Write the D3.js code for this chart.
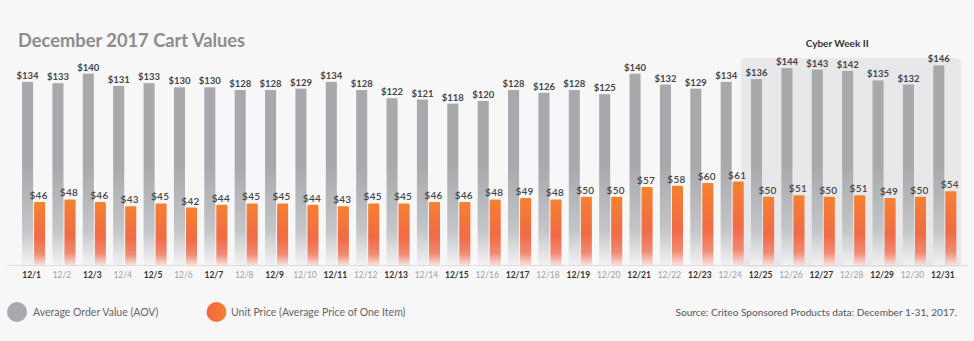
<!DOCTYPE html>
<html><head><meta charset="utf-8">
<script src="https://cdn.jsdelivr.net/npm/d3@7"></script>
<style>
html,body{margin:0;padding:0;background:#f7f7f8;}
svg{display:block;font-family:Lato,"Open Sans",sans-serif;}
</style></head><body>
<svg id="c" width="974" height="341"></svg>
<script>
const dates = ["12/1","12/2","12/3","12/4","12/5","12/6","12/7","12/8","12/9","12/10","12/11","12/12","12/13","12/14","12/15","12/16","12/17","12/18","12/19","12/20","12/21","12/22","12/23","12/24","12/25","12/26","12/27","12/28","12/29","12/30","12/31"];
const aov = [134,133,140,131,133,130,130,128,128,129,134,128,122,121,118,120,128,126,128,125,140,132,129,134,136,144,143,142,135,132,146];
const unitPrice = [46,48,46,43,45,42,44,45,45,44,43,45,45,46,46,48,49,48,50,50,57,58,60,61,50,51,50,51,49,50,54];
const seriesNames = ["Average Order Value (AOV)","Unit Price (Average Price of One Item)"];
const cyberWeek = {label:"Cyber Week II", start:"12/25", end:"12/31"};
const title = "December 2017 Cart Values";
const source = "Source: Criteo Sponsored Products data: December 1-31, 2017.";

const svg = d3.select("#c");
const base = 265;
const x = d3.scaleBand().domain(dates).range([18.4, 960]).paddingInner(0.24).paddingOuter(0.12);
const xs = d3.scaleBand().domain(["aov","unit"]).range([0, x.bandwidth()]).paddingInner(0.08);
const y = d3.scaleLinear().domain([0,150]).range([base, base - 150*1.367]);

const defs = svg.append("defs");
const gg = defs.append("linearGradient").attr("id","gGray").attr("gradientUnits","userSpaceOnUse")
  .attr("x1",0).attr("x2",0).attr("y1",base).attr("y2",165);
gg.append("stop").attr("offset","0").attr("stop-color","#f2f2f3");
gg.append("stop").attr("offset","0.35").attr("stop-color","#c4c5c8");
gg.append("stop").attr("offset","1").attr("stop-color","#a7a9ad");
const go = defs.append("linearGradient").attr("id","gOrange").attr("x1",0).attr("x2",0).attr("y1",0).attr("y2",1);
go.append("stop").attr("offset","0").attr("stop-color","#f6812f");
go.append("stop").attr("offset","0.55").attr("stop-color","#f06b46");
go.append("stop").attr("offset","0.82").attr("stop-color","#f08a72");
go.append("stop").attr("offset","1").attr("stop-color","#f8e0da");
const gl = defs.append("linearGradient").attr("id","gLeg").attr("x1",0).attr("x2",1).attr("y1",0).attr("y2",0);
gl.append("stop").attr("offset","0").attr("stop-color","#f26640");
gl.append("stop").attr("offset","1").attr("stop-color","#f6812f");

// Cyber week box
const cwL = x(cyberWeek.start) - 10, cwR = x(cyberWeek.end) + x.bandwidth() + 5;
svg.append("rect").attr("x",cwL).attr("y",58).attr("width",cwR-cwL).attr("height",base+2-58)
  .attr("rx",5).attr("fill","#e8e8ea");
svg.append("text").attr("x",(cwL+cwR)/2 - 14).attr("y",47).attr("text-anchor","middle")
  .attr("font-size",10).attr("font-weight",700).attr("fill","#333").text(cyberWeek.label);

// title
svg.append("text").attr("x",18).attr("y",47).attr("font-size",18.3).attr("font-weight",700)
  .attr("fill","#8c8c8e").text(title);

const data = dates.map((d,i)=>({d, a:aov[i], u:unitPrice[i]}));
const g = svg.append("g");
g.selectAll(".ga").data(data).join("rect")
  .attr("x",d=>x(d.d)+xs("aov")).attr("width",xs.bandwidth())
  .attr("y",d=>y(d.a)).attr("height",d=>base-y(d.a)).attr("fill","url(#gGray)");
g.selectAll(".ou").data(data).join("rect")
  .attr("x",d=>x(d.d)+xs("unit")).attr("width",xs.bandwidth())
  .attr("y",d=>y(d.u)).attr("height",d=>base-y(d.u)).attr("fill","url(#gOrange)").attr("rx",1);

g.selectAll(".la").data(data).join("text")
  .attr("x",d=>x(d.d)+xs("aov")+xs.bandwidth()/2).attr("y",d=>y(d.a)-3)
  .attr("text-anchor","middle").attr("font-size",9.5).attr("font-weight",700).attr("fill","#454548")
  .text(d=>"$"+d.a);
g.selectAll(".lu").data(data).join("text")
  .attr("x",d=>x(d.d)+xs("unit")+xs.bandwidth()/2 - 1).attr("y",d=>y(d.u)-3)
  .attr("text-anchor","middle").attr("font-size",10).attr("font-weight",600).attr("fill","#454548")
  .attr("letter-spacing",0.3)
  .text(d=>"$"+d.u);

// baseline
svg.append("line").attr("x1",7).attr("x2",968).attr("y1",base+0.5).attr("y2",base+0.5)
  .attr("stroke","#dcdcde").attr("stroke-width",1);

// x axis
const ax = svg.append("g").attr("transform",`translate(-2,${base+7})`)
  .call(d3.axisBottom(x).tickSize(0).tickPadding(0));
ax.select(".domain").remove();
ax.selectAll("text").attr("font-family","Lato, sans-serif").attr("font-size",8.5)
  .attr("font-weight",(d,i)=>i%2===0?700:400).attr("fill",(d,i)=>i%2===0?"#333":"#a0a0a3");

// legend
svg.append("circle").attr("cx",17).attr("cy",312).attr("r",10).attr("fill","#a7a9ad");
svg.append("text").attr("x",33).attr("y",316).attr("font-size",10.5).attr("fill","#666").text(seriesNames[0]);
svg.append("circle").attr("cx",216.5).attr("cy",312).attr("r",10).attr("fill","url(#gLeg)");
svg.append("text").attr("x",231).attr("y",316).attr("font-size",10.5).attr("fill","#666").text(seriesNames[1]);
svg.append("text").attr("x",957).attr("y",316).attr("text-anchor","end").attr("font-size",10.1).attr("fill","#555").text(source);
</script></body></html>
